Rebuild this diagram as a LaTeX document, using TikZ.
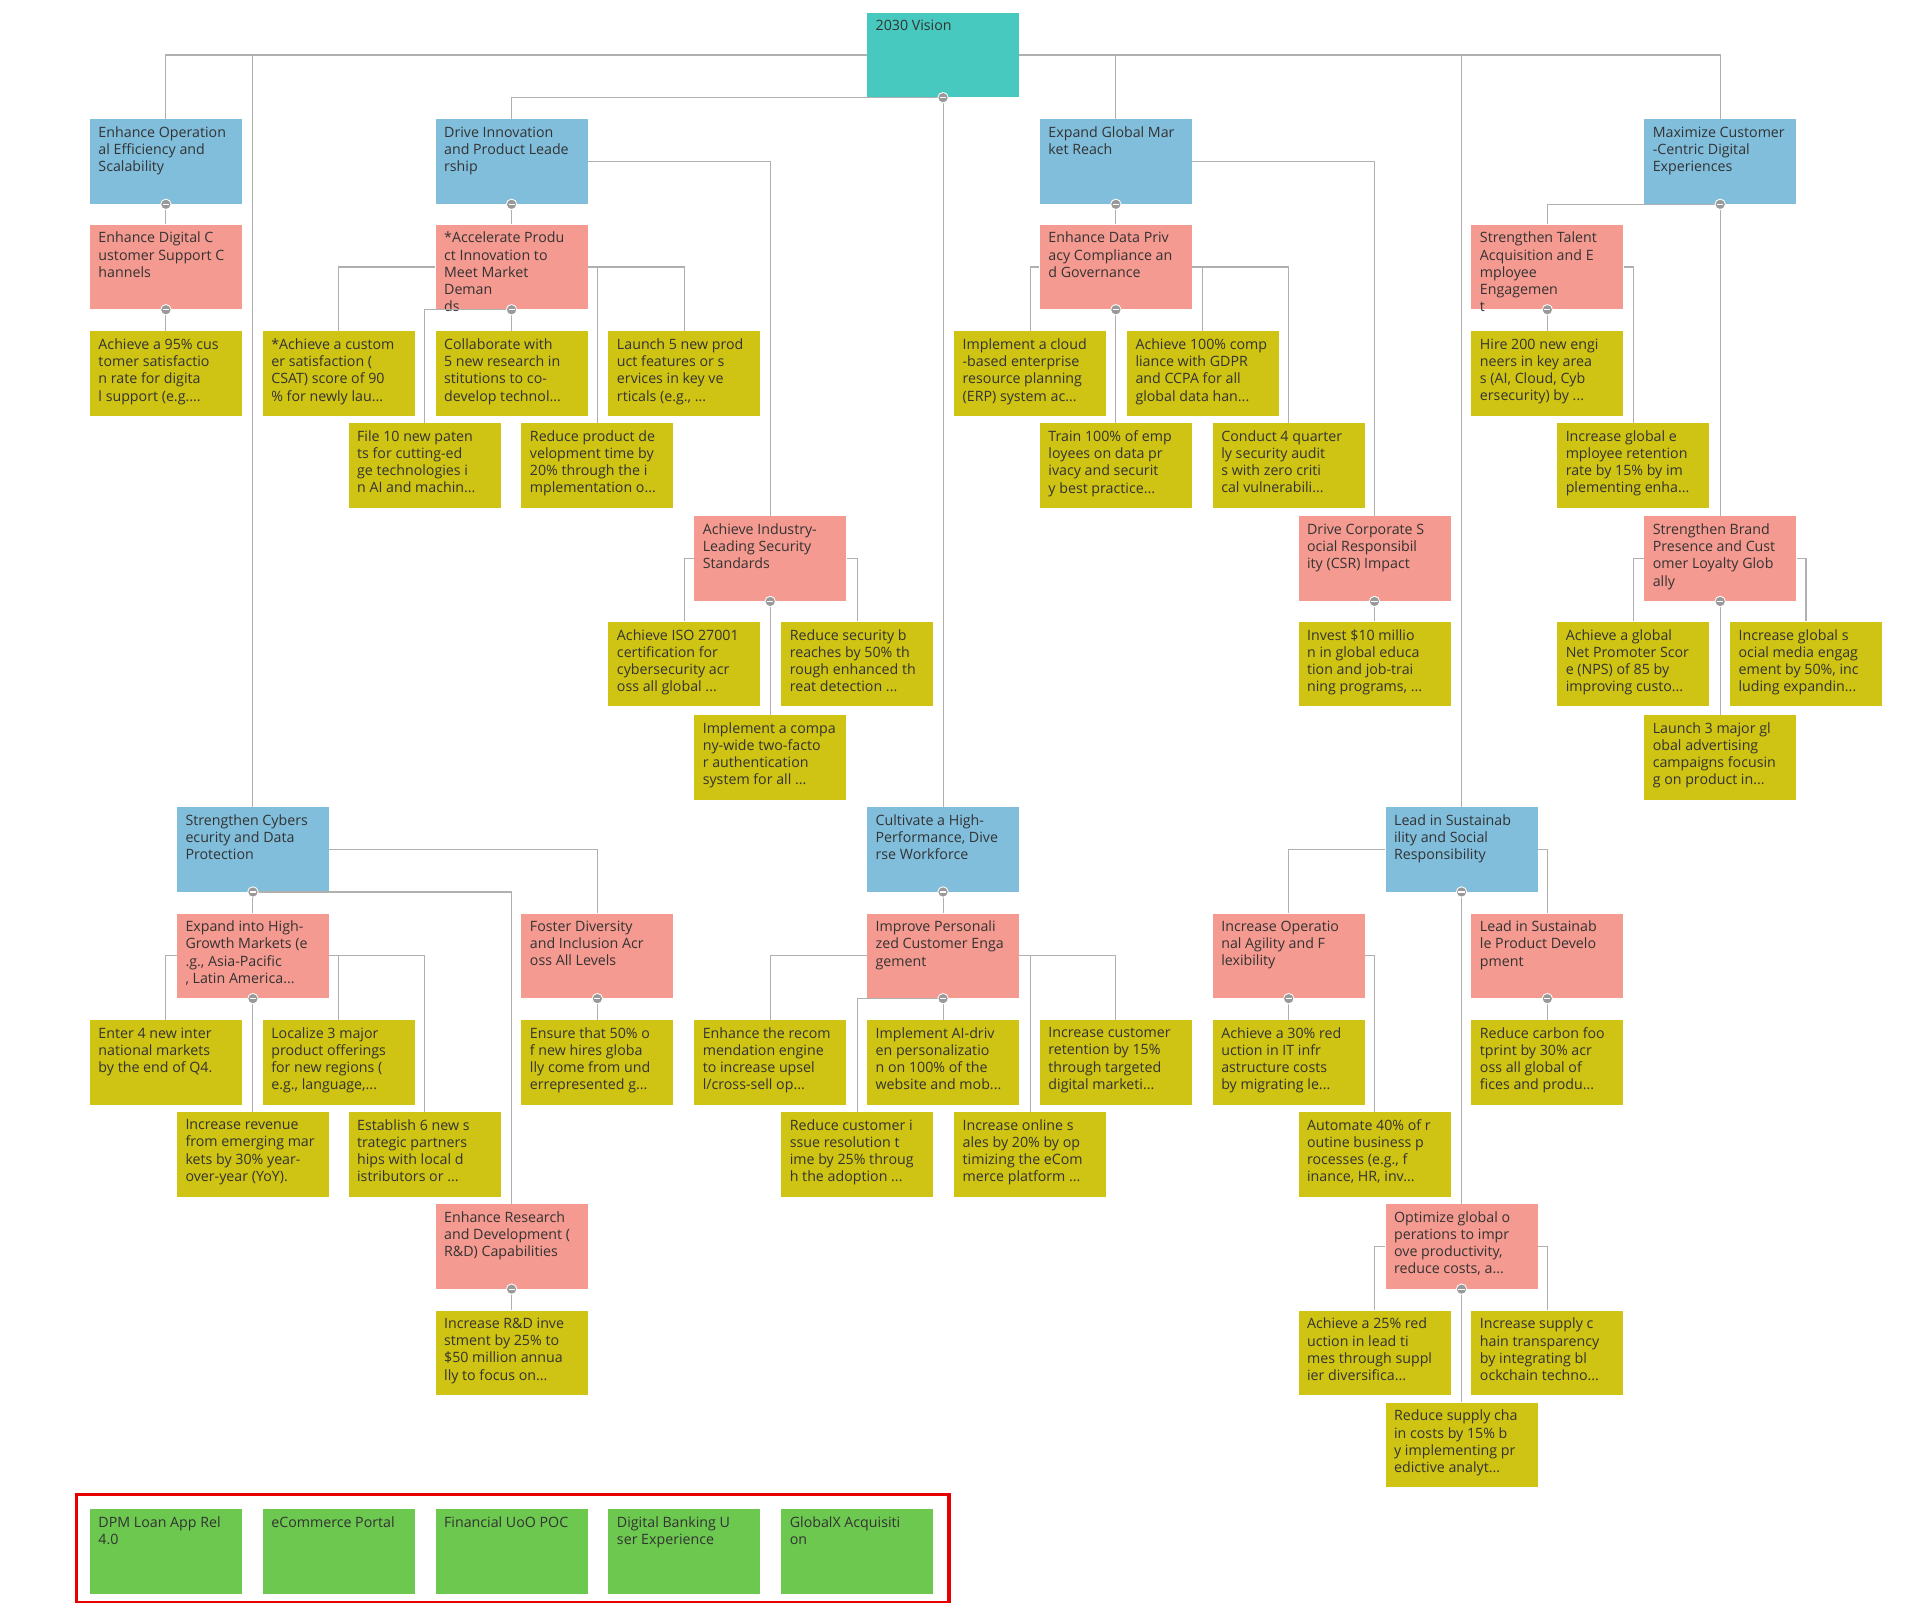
\documentclass[tikz,border=0pt]{standalone}
\usepackage{fontspec}
\setmainfont{Open Sans}
\definecolor{cteal}{HTML}{48C9C0}
\definecolor{cblue}{HTML}{80BEDC}
\definecolor{cpink}{HTML}{F49A90}
\definecolor{cyel}{HTML}{CFC313}
\definecolor{cgreen}{HTML}{6CC84F}
\definecolor{ctxt}{HTML}{333333}
\definecolor{cline}{HTML}{B0B0B0}
\tikzset{
 box/.style={anchor=north west,inner xsep=0.14cm,inner ysep=0.12cm,text=ctxt,font=\fontsize{6.6}{7.97}\selectfont},
 conn/.style={draw=cline,line width=0.5pt},
 knob/.style={circle,fill=gray!80,draw=white,line width=0.4pt,inner sep=0pt,minimum size=0.17cm}
}
\newcommand\bx[4]{\node[box,fill=#2] (#1) at (#3) {\parbox[t][1.14cm][t]{2.2cm}{\raggedright #4}};}
\newcommand\knb[1]{\node[knob] at (#1.south) {}; \draw[white,line width=0.5pt] ([xshift=-0.05cm]#1.south) -- ([xshift=0.05cm]#1.south);}
\begin{document}
\begin{tikzpicture}[x=0.02cm,y=-0.02cm]
\useasboundingbox[fill=white] (0,0) rectangle (1568,1307);
\bx{R}{cteal}{707,10}{2030 Vision}
% level 1
\bx{A}{cblue}{73,97}{Enhance Operation\\al Efficiency and\\Scalability}
\bx{B}{cblue}{355,97}{Drive Innovation\\and Product Leade\\rship}
\bx{C}{cblue}{848,97}{Expand Global Mar\\ket Reach}
\bx{D}{cblue}{1341,97}{Maximize Customer\\-Centric Digital\\Experiences}
\bx{E}{cblue}{144,658}{Strengthen Cybers\\ecurity and Data\\Protection}
\bx{F}{cblue}{707,658}{Cultivate a High-\\Performance, Dive\\rse Workforce}
\bx{G}{cblue}{1130,658}{Lead in Sustainab\\ility and Social\\Responsibility}
% level 2
\bx{A1}{cpink}{73,183}{Enhance Digital C\\ustomer Support C\\hannels}
\bx{B1}{cpink}{355,183}{*Accelerate Produ\\ct Innovation to\\Meet Market Deman\\ds}
\bx{B2}{cpink}{566,421}{Achieve Industry-\\Leading Security\\Standards}
\bx{C1}{cpink}{848,183}{Enhance Data Priv\\acy Compliance an\\d Governance}
\bx{C2}{cpink}{1059,421}{Drive Corporate S\\ocial Responsibil\\ity (CSR) Impact}
\bx{D1}{cpink}{1200,183}{Strengthen Talent\\Acquisition and E\\mployee Engagemen\\t}
\bx{D2}{cpink}{1341,421}{Strengthen Brand\\Presence and Cust\\omer Loyalty Glob\\ally}
\bx{E1}{cpink}{144,745}{Expand into High-\\Growth Markets (e\\.g., Asia-Pacific\\, Latin America...}
\bx{E2}{cpink}{425,745}{Foster Diversity\\and Inclusion Acr\\oss All Levels}
\bx{E3}{cpink}{355,982}{Enhance Research\\and Development (\\R\&D) Capabilities}
\bx{F1}{cpink}{707,745}{Improve Personali\\zed Customer Enga\\gement}
\bx{G1}{cpink}{989,745}{Increase Operatio\\nal Agility and F\\lexibility}
\bx{G2}{cpink}{1200,745}{Lead in Sustainab\\le Product Develo\\pment}
\bx{G3}{cpink}{1130,982}{Optimize global o\\perations to impr\\ove productivity,\\reduce costs, a...}
% leaves
\bx{a1}{cyel}{73,270}{Achieve a 95\% cus\\tomer satisfactio\\n rate for digita\\l support (e.g....}
\bx{b1}{cyel}{214,270}{*Achieve a custom\\er satisfaction (\\CSAT) score of 90\\\% for newly lau...}
\bx{b2}{cyel}{355,270}{Collaborate with\\5 new research in\\stitutions to co-\\develop technol...}
\bx{b3}{cyel}{496,270}{Launch 5 new prod\\uct features or s\\ervices in key ve\\rticals (e.g., ...}
\bx{b4}{cyel}{284,345}{File 10 new paten\\ts for cutting-ed\\ge technologies i\\n AI and machin...}
\bx{b5}{cyel}{425,345}{Reduce product de\\velopment time by\\20\% through the i\\mplementation o...}
\bx{b6}{cyel}{496,507}{Achieve ISO 27001\\certification for\\cybersecurity acr\\oss all global ...}
\bx{b7}{cyel}{637,507}{Reduce security b\\reaches by 50\% th\\rough enhanced th\\reat detection ...}
\bx{b8}{cyel}{566,583}{Implement a compa\\ny-wide two-facto\\r authentication\\system for all ...}
\bx{c1}{cyel}{778,270}{Implement a cloud\\-based enterprise\\resource planning\\(ERP) system ac...}
\bx{c2}{cyel}{919,270}{Achieve 100\% comp\\liance with GDPR\\and CCPA for all\\global data han...}
\bx{c3}{cyel}{848,345}{Train 100\% of emp\\loyees on data pr\\ivacy and securit\\y best practice...}
\bx{c4}{cyel}{989,345}{Conduct 4 quarter\\ly security audit\\s with zero criti\\cal vulnerabili...}
\bx{c5}{cyel}{1059,507}{Invest \$10 millio\\n in global educa\\tion and job-trai\\ning programs, ...}
\bx{d1}{cyel}{1200,270}{Hire 200 new engi\\neers in key area\\s (AI, Cloud, Cyb\\ersecurity) by ...}
\bx{d2}{cyel}{1270,345}{Increase global e\\mployee retention\\rate by 15\% by im\\plementing enha...}
\bx{d3}{cyel}{1270,507}{Achieve a global\\Net Promoter Scor\\e (NPS) of 85 by\\improving custo...}
\bx{d4}{cyel}{1411,507}{Increase global s\\ocial media engag\\ement by 50\%, inc\\luding expandin...}
\bx{d5}{cyel}{1341,583}{Launch 3 major gl\\obal advertising\\campaigns focusin\\g on product in...}
\bx{e1}{cyel}{73,832}{Enter 4 new inter\\national markets\\by the end of Q4.}
\bx{e2}{cyel}{214,832}{Localize 3 major\\product offerings\\for new regions (\\e.g., language,...}
\bx{e3}{cyel}{144,907}{Increase revenue\\from emerging mar\\kets by 30\% year-\\over-year (YoY).}
\bx{e4}{cyel}{284,907}{Establish 6 new s\\trategic partners\\hips with local d\\istributors or ...}
\bx{e5}{cyel}{425,832}{Ensure that 50\% o\\f new hires globa\\lly come from und\\errepresented g...}
\bx{e6}{cyel}{355,1069}{Increase R\&D inve\\stment by 25\% to\\\$50 million annua\\lly to focus on...}
\bx{f1}{cyel}{566,832}{Enhance the recom\\mendation engine\\to increase upsel\\l/cross-sell op...}
\bx{f2}{cyel}{707,832}{Implement AI-driv\\en personalizatio\\n on 100\% of the\\website and mob...}
\bx{f3}{cyel}{848,832}{Increase customer\\retention by 15\%\\through targeted\\digital marketi...}
\bx{f4}{cyel}{637,907}{Reduce customer i\\ssue resolution t\\ime by 25\% throug\\h the adoption ...}
\bx{f5}{cyel}{778,907}{Increase online s\\ales by 20\% by op\\timizing the eCom\\merce platform ...}
\bx{g1}{cyel}{989,832}{Achieve a 30\% red\\uction in IT infr\\astructure costs\\by migrating le...}
\bx{g2}{cyel}{1059,907}{Automate 40\% of r\\outine business p\\rocesses (e.g., f\\inance, HR, inv...}
\bx{g3}{cyel}{1200,832}{Reduce carbon foo\\tprint by 30\% acr\\oss all global of\\fices and produ...}
\bx{g4}{cyel}{1059,1069}{Achieve a 25\% red\\uction in lead ti\\mes through suppl\\ier diversifica...}
\bx{g5}{cyel}{1200,1069}{Increase supply c\\hain transparency\\by integrating bl\\ockchain techno...}
\bx{g6}{cyel}{1130,1144}{Reduce supply cha\\in costs by 15\% b\\y implementing pr\\edictive analyt...}
% green
\bx{p1}{cgreen}{73,1231}{DPM Loan App Rel\\4.0}
\bx{p2}{cgreen}{214,1231}{eCommerce Portal}
\bx{p3}{cgreen}{355,1231}{Financial UoO POC}
\bx{p4}{cgreen}{496,1231}{Digital Banking U\\ser Experience}
\bx{p5}{cgreen}{637,1231}{GlobalX Acquisiti\\on}
\node[draw={rgb,255:red,230;green,0;blue,0},line width=1.6pt,minimum width=14.24cm,minimum height=1.76cm,anchor=north west,inner sep=0pt] (frame) at (61,1218) {};
% connectors
\draw[conn] (R.west) -| (A.north);
\draw[conn] (R.west) -| (E.north);
\draw[conn] (R.east) -| (C.north);
\draw[conn] (R.east) -| (G.north);
\draw[conn] (R.east) -| (D.north);
\draw[conn] (R.south) -| (B.north);
\draw[conn] (R.south) -- (F.north);
\draw[conn] (A.south) -- (A1.north);
\draw[conn] (A1.south) -- (a1.north);
\draw[conn] (B.south) -- (B1.north);
\draw[conn] (B.east) -| (B2.north);
\draw[conn] (B1.west) -| (b1.north);
\draw[conn] (B1.south) -- (b2.north);
\draw[conn] (B1.south) -| (b4.north);
\draw[conn] (B1.east) -| (b3.north);
\draw[conn] (B1.east) -| (b5.north);
\draw[conn] (B2.west) -| (b6.north);
\draw[conn] (B2.east) -| (b7.north);
\draw[conn] (B2.south) -- (b8.north);
\draw[conn] (C.south) -- (C1.north);
\draw[conn] (C.east) -| (C2.north);
\draw[conn] (C1.west) -| (c1.north);
\draw[conn] (C1.east) -| (c2.north);
\draw[conn] (C1.east) -| (c4.north);
\draw[conn] (C1.south) -- (c3.north);
\draw[conn] (C2.south) -- (c5.north);
\draw[conn] (D.south) -| (D1.north);
\draw[conn] (D.south) -- (D2.north);
\draw[conn] (D1.south) -- (d1.north);
\draw[conn] (D1.east) -| (d2.north);
\draw[conn] (D2.west) -| (d3.north);
\draw[conn] (D2.east) -| (d4.north);
\draw[conn] (D2.south) -- (d5.north);
\draw[conn] (E.south) -- (E1.north);
\draw[conn] (E.east) -| (E2.north);
\draw[conn] (E.south) -| (E3.north);
\draw[conn] (E1.west) -| (e1.north);
\draw[conn] (E1.south) -- (e3.north);
\draw[conn] (E1.east) -| (e2.north);
\draw[conn] (E1.east) -| (e4.north);
\draw[conn] (E2.south) -- (e5.north);
\draw[conn] (E3.south) -- (e6.north);
\draw[conn] (F.south) -- (F1.north);
\draw[conn] (F1.west) -| (f1.north);
\draw[conn] (F1.south) -- (f2.north);
\draw[conn] (F1.east) -| (f3.north);
\draw[conn] (F1.south) -| (f4.north);
\draw[conn] (F1.east) -| (f5.north);
\draw[conn] (G.west) -| (G1.north);
\draw[conn] (G.east) -| (G2.north);
\draw[conn] (G.south) -- (G3.north);
\draw[conn] (G1.south) -- (g1.north);
\draw[conn] (G1.east) -| (g2.north);
\draw[conn] (G2.south) -- (g3.north);
\draw[conn] (G3.west) -| (g4.north);
\draw[conn] (G3.east) -| (g5.north);
\draw[conn] (G3.south) -- (g6.north);
\foreach \n in {R,A,B,C,D,E,F,G,A1,B1,B2,C1,C2,D1,D2,E1,E2,E3,F1,G1,G2,G3} {\knb{\n}}
\end{tikzpicture}
\end{document}
